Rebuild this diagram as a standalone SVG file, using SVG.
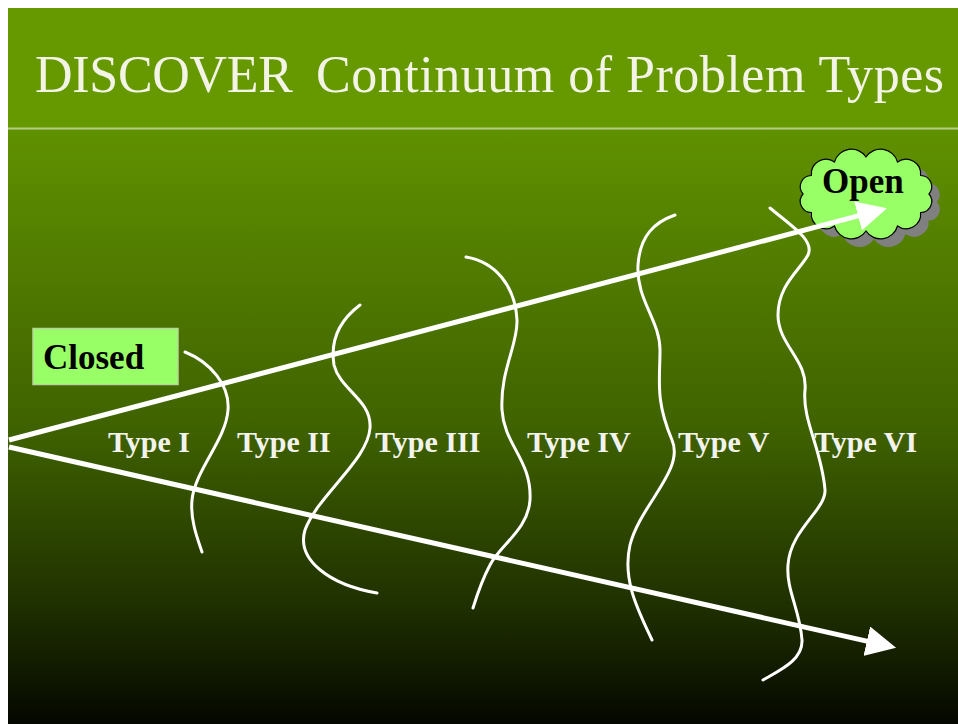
<svg xmlns="http://www.w3.org/2000/svg" width="958" height="724" viewBox="0 0 958 724">
  <style>
    .title { font-family: "Liberation Serif", "Times New Roman", serif; font-size: 52px; fill: #f4f4e6; }
    .tag { font-family: "Liberation Serif", "Times New Roman", serif; font-size: 35px; font-weight: bold; fill: #000; }
    .type { font-family: "Liberation Serif", "Times New Roman", serif; font-size: 30px; font-weight: bold; fill: #f3f3ee; }
    .wave { fill: none; stroke: #ffffff; stroke-width: 3; stroke-linecap: round; }
    .arrow { fill: none; stroke: #ffffff; stroke-width: 5; }
    .green { fill: #99ff66; }
  </style>
  <defs>
    <linearGradient id="bodyGrad" x1="0" y1="0" x2="0" y2="1">
      <stop offset="0" stop-color="#609100"/>
      <stop offset="0.5" stop-color="#3f6200"/>
      <stop offset="0.8" stop-color="#1f3000"/>
      <stop offset="1" stop-color="#040700"/>
    </linearGradient>
    <marker id="head" markerUnits="userSpaceOnUse" markerWidth="30" markerHeight="30" refX="1" refY="15" orient="auto">
      <path d="M0,0 L30,15 L0,30 Z" fill="#ffffff"/>
    </marker>
    <!-- scalloped cloud outline built from twelve outward arcs -->
    <path id="cloudShape" d="M803,194 A11.2,11.2 0 0 1 811.4,175.5 A14.7,14.7 0 0 1 834.5,162 A17.5,17.5 0 0 1 866,157 A17.5,17.5 0 0 1 897.5,162 A14.7,14.7 0 0 1 920.6,175.5 A11.2,11.2 0 0 1 929,194 A11.2,11.2 0 0 1 920.6,212.5 A14.7,14.7 0 0 1 897.5,226 A17.5,17.5 0 0 1 866,231 A17.5,17.5 0 0 1 834.5,226 A14.7,14.7 0 0 1 811.4,212.5 A11.2,11.2 0 0 1 803,194 Z"/>
  </defs>

  <!-- page and slide background -->
  <rect x="0" y="0" width="958" height="724" fill="#ffffff"/>
  <rect x="8" y="8" width="950" height="122" fill="#669900"/>
  <rect x="8" y="130" width="950" height="594" fill="url(#bodyGrad)"/>
  <line x1="8" y1="128.5" x2="958" y2="128.5" stroke="#b4cc88" stroke-width="2"/>

  <g id="title">
    <text class="title" y="92"><tspan x="35" textLength="258">DISCOVER</tspan><tspan x="316" textLength="628">Continuum of Problem Types</tspan></text>
  </g>

  <g id="open">
    <use href="#cloudShape" transform="translate(8,8)" fill="#808080"/>
    <use href="#cloudShape" class="green" stroke="#000" stroke-width="1.2"/>
    <text class="tag" x="822" y="193">Open</text>
  </g>

  <g id="closed">
    <rect x="33" y="328.5" width="145" height="56" class="green" stroke="#b8d49c" stroke-width="1.5"/>
    <text class="tag" x="43" y="369">Closed</text>
  </g>

  <g id="connectors">
    <line class="arrow" x1="9" y1="440" x2="859" y2="215.7" marker-end="url(#head)"/>
    <line class="arrow" x1="9" y1="447" x2="867.8" y2="641.4" marker-end="url(#head)"/>
  </g>

  <g id="boundaries">
    <path id="boundary-1" class="wave" d="M185,352 C210,362 230,385 228,410 C226,440 195,470 192,500 C190,520 198,540 202,552"/>
    <path id="boundary-2" class="wave" d="M360,305 C340,320 330,340 334,365 C340,390 372,400 370,428 C368,460 318,495 305,530 C296,560 330,585 377,593"/>
    <path id="boundary-3" class="wave" d="M466,257 C495,262 515,285 517,320 C518,345 500,370 502,410 C504,445 532,460 530,500 C528,530 500,545 490,565 C482,580 477,595 473,608"/>
    <path id="boundary-4" class="wave" d="M675,215 C655,222 640,235 638,265 C636,300 660,320 660,350 C660,380 655,400 672,440 C685,470 640,505 630,545 C622,580 638,610 652,640"/>
    <path id="boundary-5" class="wave" d="M770,208 C790,225 815,240 808,255 C800,270 778,285 778,315 C778,345 808,360 805,390 C802,420 822,450 825,490 C826,510 790,530 788,565 C786,590 800,610 802,640 C803,660 780,670 763,680"/>
  </g>

  <g id="types">
    <text id="type-1" class="type" x="108" y="452">Type I</text>
    <text id="type-2" class="type" x="237" y="452">Type II</text>
    <text id="type-3" class="type" x="375" y="452">Type III</text>
    <text id="type-4" class="type" x="527" y="452">Type IV</text>
    <text id="type-5" class="type" x="678" y="452">Type V</text>
    <text id="type-6" class="type" x="814" y="452">Type VI</text>
  </g>
</svg>
